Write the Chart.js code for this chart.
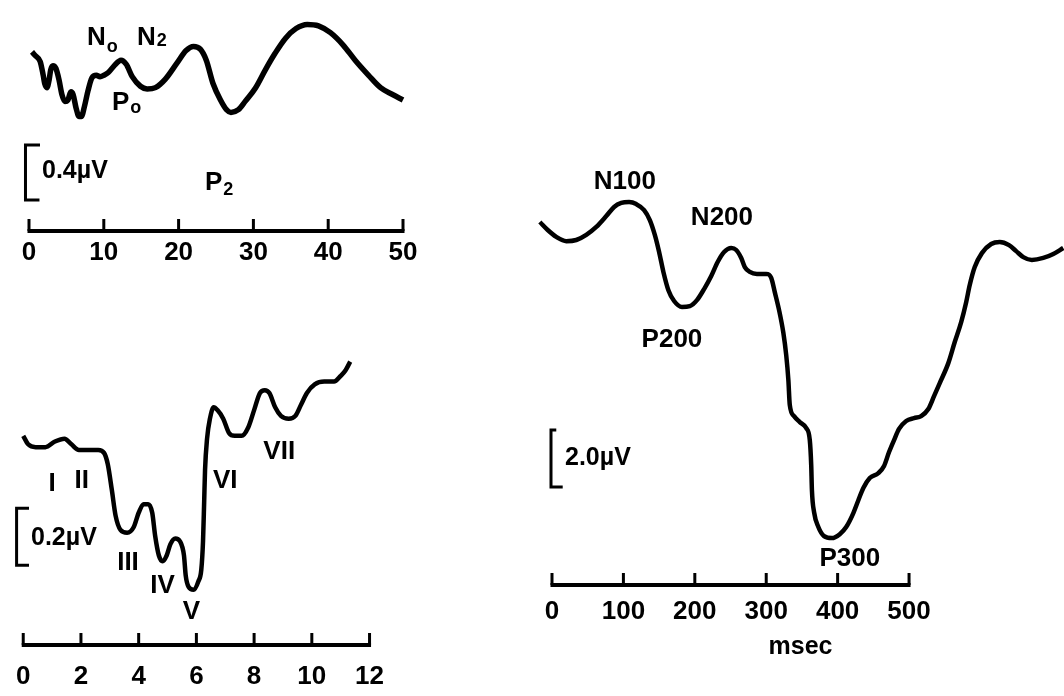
<!DOCTYPE html>
<html>
<head>
<meta charset="utf-8">
<script src="https://cdn.jsdelivr.net/npm/chart.js@4.4.1/dist/chart.umd.min.js"></script>
<style>
  html, body { margin: 0; padding: 0; background: #fff; width: 1064px; height: 696px; overflow: hidden; }
  canvas { position: absolute; }
  #mlr { left: 0; top: 0; }
  #abr { left: 0; top: 330px; }
  #late { left: 530px; top: 150px; }
</style>
</head>
<body>
<canvas id="mlr" width="430" height="280"></canvas>
<canvas id="abr" width="400" height="366"></canvas>
<canvas id="late" width="534" height="546"></canvas>
<script>
// middle latency response, 0-50 ms (uV, negative up)
const mlrTime = [0.4, 0.9, 1.5, 1.9, 2.1, 2.4, 2.7, 2.9, 3.2, 3.6, 4.0, 4.4, 4.8, 5.2, 5.6, 5.9, 6.3, 6.7, 7.0, 7.4,
  7.9, 8.4, 9.0, 9.5, 10.0, 10.6, 11.4, 12.3, 13.0, 13.8, 14.9, 15.8, 16.9, 18.2, 19.8, 21.0, 22.0, 22.9, 23.7, 24.6,
  25.6, 26.4, 27.0, 28.0, 28.9, 30.3, 31.6, 32.9, 34.3, 35.7, 37.2, 38.7, 40.3, 42.0, 43.6, 45.4, 47.0, 48.6, 50.0];
const mlrAmp = [-0.35, -0.32, -0.28, -0.18, -0.12, -0.09, -0.15, -0.22, -0.25, -0.23, -0.15, -0.04, 0.01, 0.00, -0.06, -0.04, 0.06, 0.12, 0.12, 0.05,
  -0.07, -0.16, -0.18, -0.17, -0.18, -0.20, -0.25, -0.29, -0.26, -0.17, -0.10, -0.08, -0.09, -0.15, -0.27, -0.36, -0.39, -0.37, -0.29, -0.12,
  0.00, 0.07, 0.09, 0.07, 0.01, -0.09, -0.22, -0.34, -0.45, -0.52, -0.55, -0.54, -0.49, -0.40, -0.29, -0.18, -0.09, -0.04, 0.00];
const mlrTicks = [0, 10, 20, 30, 40, 50];

// brainstem response, 0-12 ms
const abrTime = [0.0, 0.17, 0.43, 0.77, 1.10, 1.43, 1.67, 1.93, 2.20, 2.60, 2.80, 2.93, 3.07, 3.20, 3.37, 3.60, 3.83, 4.00, 4.17, 4.33,
  4.47, 4.57, 4.70, 4.83, 4.97, 5.10, 5.27, 5.43, 5.57, 5.63, 5.73, 5.90, 6.07, 6.17, 6.23, 6.27, 6.30, 6.37, 6.47, 6.60,
  6.73, 6.93, 7.13, 7.33, 7.57, 7.80, 8.00, 8.20, 8.37, 8.53, 8.73, 8.93, 9.20, 9.43, 9.63, 9.83, 10.10, 10.43, 10.77, 11.00,
  11.17, 11.33];
const abrAmp = [-0.05, -0.02, -0.01, -0.01, -0.03, -0.04, -0.02, 0.00, 0.00, 0.00, 0.01, 0.05, 0.14, 0.23, 0.28, 0.29, 0.27, 0.22, 0.19, 0.19,
  0.22, 0.30, 0.37, 0.39, 0.37, 0.33, 0.31, 0.32, 0.37, 0.44, 0.48, 0.49, 0.46, 0.42, 0.32, 0.18, 0.07, -0.04, -0.11, -0.15,
  -0.14, -0.11, -0.06, -0.05, -0.05, -0.08, -0.14, -0.20, -0.21, -0.20, -0.15, -0.12, -0.11, -0.12, -0.16, -0.20, -0.23, -0.24, -0.24, -0.26,
  -0.28, -0.31];
const abrTicks = [0, 2, 4, 6, 8, 10, 12];

// late cortical response, msec
const lateTime = [-17, -6, 6, 20, 34, 48, 62, 76, 87, 97, 108, 118, 129, 137, 144, 150, 156, 163, 171, 182,
  193, 203, 213, 223, 232, 241, 251, 258, 265, 270, 277, 287, 300, 307, 312, 318, 324, 328, 331, 333,
  339, 347, 356, 361, 363, 364, 367, 373, 381, 392, 403, 412, 422, 429, 436, 445, 457, 465, 472, 479,
  486, 496, 507, 517, 527, 535, 543, 555, 564, 573, 580, 585, 592, 602, 615, 627, 640, 650, 660, 672,
  688, 702, 716];
const lateAmp = [-0.63, -0.35, -0.11, 0.04, 0.00, -0.18, -0.46, -0.84, -1.16, -1.30, -1.33, -1.26, -1.05, -0.70, -0.18, 0.42, 1.12, 1.76, 2.14, 2.35,
  2.32, 2.11, 1.72, 1.26, 0.77, 0.42, 0.28, 0.35, 0.63, 0.95, 1.12, 1.19, 1.19, 1.33, 1.83, 2.46, 3.26, 4.04, 4.91, 5.79,
  6.18, 6.39, 6.60, 7.02, 7.90, 8.78, 9.55, 10.07, 10.39, 10.46, 10.32, 10.07, 9.58, 9.13, 8.70, 8.35, 8.18, 7.93, 7.44, 7.02,
  6.63, 6.35, 6.25, 6.18, 5.93, 5.48, 5.02, 4.32, 3.58, 2.88, 2.18, 1.58, 0.95, 0.46, 0.14, 0.07, 0.18, 0.39, 0.60, 0.70,
  0.63, 0.49, 0.28];
const lateTicks = [0, 100, 200, 300, 400, 500];

const FONT = "'Liberation Sans', Arial, Helvetica, sans-serif";

// axis line with upward ticks, calibration bracket and peak labels
function decor(cfg) {
  return {
    id: 'decor',
    afterDatasetsDraw(chart) {
      const ctx = chart.ctx, xs = chart.scales.x, ys = chart.scales.y;
      const yAxis = chart.chartArea.bottom;
      ctx.save();
      ctx.strokeStyle = '#000';
      ctx.fillStyle = '#000';
      ctx.lineWidth = 4;
      ctx.beginPath();
      ctx.moveTo(xs.getPixelForValue(cfg.ticks[0]) - 1.5, yAxis);
      ctx.lineTo(xs.getPixelForValue(cfg.ticks[cfg.ticks.length - 1]) + 1.5, yAxis);
      ctx.stroke();
      ctx.lineWidth = 3;
      cfg.ticks.forEach(v => {
        const px = xs.getPixelForValue(v);
        ctx.beginPath();
        ctx.moveTo(px, yAxis);
        ctx.lineTo(px, yAxis - 12);
        ctx.stroke();
      });

      const b = cfg.bar;
      const bx = xs.getPixelForValue(b.x);
      const t = ys.getPixelForValue(b.from), u = ys.getPixelForValue(b.from + b.size);
      ctx.lineWidth = 3;
      ctx.beginPath();
      ctx.moveTo(xs.getPixelForValue(b.hookTop), t);
      ctx.lineTo(bx, t);
      ctx.lineTo(bx, u);
      ctx.lineTo(xs.getPixelForValue(b.hookBottom), u);
      ctx.stroke();
      ctx.font = 'bold 25px ' + FONT;
      ctx.textAlign = 'left';
      ctx.textBaseline = 'alphabetic';
      ctx.fillText(b.text, xs.getPixelForValue(b.tx), ys.getPixelForValue(b.ty));

      cfg.labels.forEach(l => {
        const px = xs.getPixelForValue(l.x), py = ys.getPixelForValue(l.y);
        ctx.font = 'bold 26px ' + FONT;
        if (l.sub) {
          ctx.textAlign = 'left';
          ctx.textBaseline = 'alphabetic';
          ctx.fillText(l.t, px, py);
          const w = ctx.measureText(l.t).width;
          ctx.font = 'bold 18px ' + FONT;
          ctx.fillText(l.sub, px + w + 1, py + l.dy);
        } else {
          ctx.textAlign = 'center';
          ctx.textBaseline = 'middle';
          ctx.fillText(l.t, px, py);
        }
      });
      ctx.restore();
    }
  };
}

function makeChart(id, time, amp, cfg) {
  return new Chart(document.getElementById(id), {
    type: 'line',
    data: {
      datasets: [{
        data: time.map((x, i) => ({ x: x, y: amp[i] })),
        borderColor: '#000',
        borderWidth: cfg.lineWidth,
        pointRadius: 0,
        fill: false,
        clip: false,
        cubicInterpolationMode: 'monotone'
      }]
    },
    options: {
      responsive: false,
      animation: false,
      events: [],
      layout: { padding: cfg.pad },
      plugins: { legend: { display: false }, tooltip: { enabled: false } },
      scales: {
        x: {
          type: 'linear',
          min: cfg.xMin,
          max: cfg.xMax,
          grid: { display: false, drawTicks: false },
          border: { display: false },
          afterBuildTicks: s => { s.ticks = cfg.ticks.map(v => ({ value: v })); },
          afterFit: s => { s.height = cfg.axisH; },
          ticks: {
            autoSkip: false,
            maxRotation: 0,
            padding: cfg.tickPad,
            color: '#000',
            font: { family: FONT, size: 26, weight: 'bold' }
          },
          title: cfg.title ? {
            display: true,
            text: cfg.title,
            color: '#000',
            font: { family: FONT, size: 25, weight: 'bold' },
            padding: { top: 0, bottom: 3 }
          } : { display: false }
        },
        y: { display: false, reverse: true, min: cfg.yMin, max: cfg.yMax }
      }
    },
    plugins: [decor(cfg)]
  });
}

makeChart('mlr', mlrTime, mlrAmp, {
  lineWidth: 5.5, xMin: 0, xMax: 50, yMin: -0.655, yMax: 0.953,
  pad: { left: 29, right: 27, top: 10, bottom: 9 }, axisH: 40, tickPad: 6,
  ticks: mlrTicks,
  bar: { x: -0.47, hookTop: 1.47, hookBottom: 1.4, from: 0.327, size: 0.4, text: '0.4\u00b5V', tx: 1.74, ty: 0.567 },
  labels: [
    { t: 'N', sub: 'o', dy: 7, x: 7.75, y: -0.40 },
    { t: 'N', sub: '2', dy: 1, x: 14.44, y: -0.40 },
    { t: 'P', sub: 'o', dy: 3, x: 11.10, y: 0.073 },
    { t: 'P', sub: '2', dy: 5, x: 23.53, y: 0.655 }
  ]
});

makeChart('abr', abrTime, abrAmp, {
  lineWidth: 4.5, xMin: 0, xMax: 12, yMin: -0.386, yMax: 0.684,
  pad: { left: 22, right: 18, top: 10, bottom: 11 }, axisH: 40, tickPad: 16,
  ticks: abrTicks,
  bar: { x: -0.23, hookTop: 0.2, hookBottom: 0.2, from: 0.204, size: 0.2, text: '0.2\u00b5V', tx: 0.27, ty: 0.333 },
  labels: [
    { t: 'I', x: 1.0, y: 0.119 },
    { t: 'II', x: 2.03, y: 0.109 },
    { t: 'III', x: 3.63, y: 0.397 },
    { t: 'IV', x: 4.83, y: 0.477 },
    { t: 'V', x: 5.83, y: 0.568 },
    { t: 'VI', x: 7.0, y: 0.109 },
    { t: 'VII', x: 8.87, y: 0.007 }
  ]
});

makeChart('late', lateTime, lateAmp, {
  lineWidth: 4.5, xMin: -21, xMax: 717, yMin: -2.807, yMax: 12.105,
  pad: { left: 7, right: 0, top: 10, bottom: 31 }, axisH: 80, tickPad: 11, title: 'msec',
  ticks: lateTicks,
  bar: { x: -1.4, hookTop: 6, hookBottom: 15, from: 6.67, size: 2.0, text: '2.0\u00b5V', tx: 18.2, ty: 7.89 },
  labels: [
    { t: 'N100', x: 102, y: -2.04 },
    { t: 'N200', x: 238, y: -0.77 },
    { t: 'P200', x: 168, y: 3.51 },
    { t: 'P300', x: 417, y: 11.19 }
  ]
});
</script>
</body>
</html>
